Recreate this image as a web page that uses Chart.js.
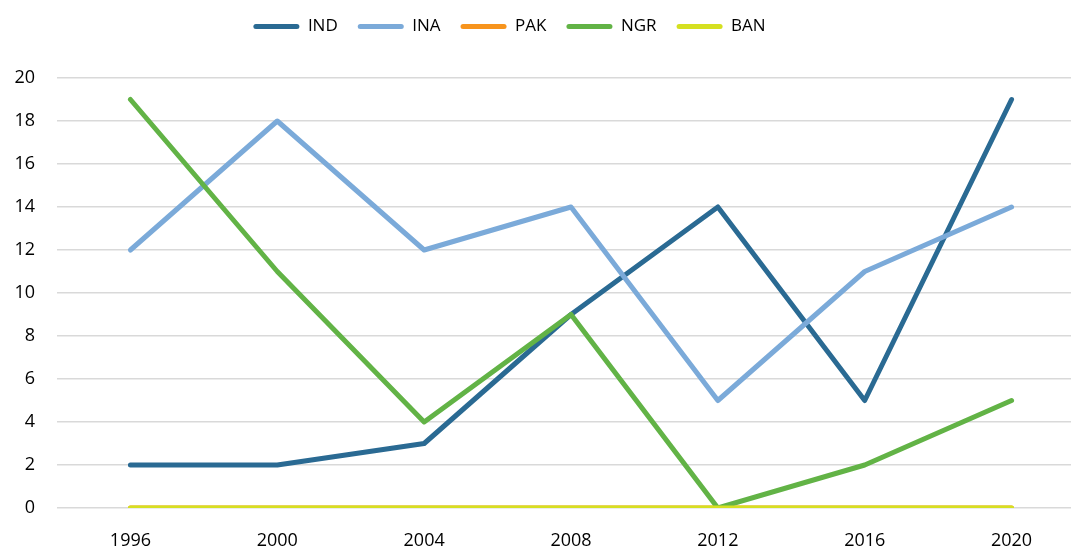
<!DOCTYPE html>
<html><head><meta charset="utf-8">
<script src="https://cdn.jsdelivr.net/npm/chart.js@4"></script>
<style>html,body{margin:0;padding:0;overflow:hidden;background:#fff}#wrap{width:1085px;height:549px}</style>
</head><body><div id="wrap"><canvas id="c"></canvas></div>
<script>
const categories = ['1996','2000','2004','2008','2012','2016','2020'];
const IND = [2,2,3,9,14,5,19];
const INA = [12,18,12,14,5,11,14];
const PAK = [0,0,0,0,0,0,0];
const NGR = [19,11,4,9,0,2,5];
const BAN = [0,0,0,0,0,0,0];
const seriesNames = ['IND','INA','PAK','NGR','BAN'];
const seriesColors = ['#2A6A93','#7BAAD9','#F7941D','#62B346','#D5E021'];
const seriesData = [IND, INA, PAK, NGR, BAN];
const F = "'Open Sans','Noto Sans',sans-serif";
const legendTweak = {
  id: 'legendTweak',
  beforeInit(chart) {
    const lg = chart.legend;
    const orig = lg.fit.bind(lg);
    lg.fit = function() { orig(); this.height = 78; };
  },
  afterLayout(chart) {
    const lg = chart.legend;
    lg.left -= 33; lg.right -= 33;
    lg.top -= 2; lg.bottom -= 2;
  }
};
new Chart(document.getElementById('c'), {
  type: 'line',
  data: {
    labels: categories,
    datasets: seriesData.map((d,i)=>({
      label: seriesNames[i], data: d,
      borderColor: seriesColors[i], backgroundColor: seriesColors[i],
      borderWidth: 5, pointRadius: 0, tension: 0,
      borderCapStyle: 'round', borderJoinStyle: 'round',
      order: 5 - i
    }))
  },
  plugins: [legendTweak],
  options: {
    responsive: true, maintainAspectRatio: false, animation: false,
    layout: { padding: 0 },
    plugins: {
      tooltip: { enabled: false },
      legend: {
        position: 'top',
        labels: {
          font: { family: F, size: 17 }, color: '#000',
          boxWidth: 46, boxHeight: 5, padding: 20,
          useBorderRadius: true, borderRadius: 2.5,
          generateLabels: (chart)=>chart.data.datasets.map((ds,i)=>({
            text: ds.label, fillStyle: ds.borderColor, strokeStyle: ds.borderColor,
            lineWidth: 0, datasetIndex: i, borderRadius: 2.5, fontColor: '#000'
          }))
        }
      }
    },
    scales: {
      x: {
        offset: true,
        grid: { display: false, drawTicks: false },
        border: { display: false },
        ticks: { font: { family: F, size: 18 }, color: '#000', padding: 22 },
        afterFit: s => { s.height = 41; }
      },
      y: {
        min: 0, max: 20,
        grid: { color: '#D9D9D9', lineWidth: 1.5, drawTicks: false },
        border: { display: false },
        ticks: { stepSize: 2, font: { family: F, size: 18 }, color: '#000', padding: 22 },
        afterFit: s => { s.width = 57; }
      }
    }
  }
});
</script></body></html>
